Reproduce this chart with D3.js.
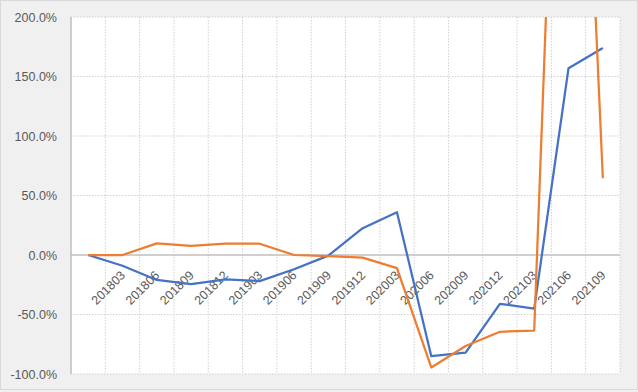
<!DOCTYPE html>
<html><head><meta charset="utf-8">
<script src="https://cdn.jsdelivr.net/npm/d3@7"></script>
<style>
html,body{margin:0;padding:0;background:#f0f0f0;}
svg{display:block;}
</style></head>
<body>
<script>
const categories = ["", "201803", "201806", "201809", "201812", "201903", "201906", "201909", "201912", "202003", "202006", "202009", "202012", "202103", "202106", "202109"];
const seriesBlue = [0, -9, -21, -24.5, -20.5, -22, -12, -0.5, 22.5, 36, -85, -82, -41, -45, 157, 174];
const seriesOrange = [0, 0, 9.8, 7.6, 9.5, 9.5, 0, -1, -2.2, -11, -94.5, -76.5, -64.5, -63.5, 710, 64.5];
const yTicks = [-100, -50, 0, 50, 100, 150, 200];

const W = 638, H = 392;
const svg = d3.select("body").append("svg").attr("width", W).attr("height", H);

svg.append("rect").attr("x", 0.5).attr("y", 0.5).attr("width", W - 1).attr("height", H - 3)
  .attr("fill", "#f0f0f0").attr("stroke", "#d9d9d9").attr("stroke-width", 1);

const x = d3.scaleBand().domain(categories.map((d, i) => i)).range([71, 620]).padding(0);
const y = d3.scaleLinear().domain([-100, 200]).range([374, 17]);

svg.append("rect").attr("x", 71).attr("y", 17).attr("width", 549).attr("height", 357).attr("fill", "#ffffff");

svg.append("defs").append("clipPath").attr("id", "clip")
  .append("rect").attr("x", 71).attr("y", 17).attr("width", 549).attr("height", 357);

// horizontal gridlines
svg.append("g").selectAll("line").data(yTicks.filter(d => d !== 0)).join("line")
  .attr("x1", 71).attr("x2", 620).attr("y1", d => y(d)).attr("y2", d => y(d))
  .attr("stroke", "#d0d0d0").attr("stroke-width", 1).attr("stroke-dasharray", "1.5,1.5");
// vertical gridlines
const vg = categories.map((d, i) => x(i) + x.bandwidth());
svg.append("g").selectAll("line").data(vg).join("line")
  .attr("x1", d => d).attr("x2", d => d).attr("y1", 17).attr("y2", 374)
  .attr("stroke", "#d0d0d0").attr("stroke-width", 1).attr("stroke-dasharray", "1.5,1.5");

// y axis line
svg.append("line").attr("x1", 71).attr("x2", 71).attr("y1", 17).attr("y2", 374)
  .attr("stroke", "#bfbfbf").attr("stroke-width", 1.5);
// zero line
svg.append("line").attr("x1", 71).attr("x2", 620).attr("y1", y(0)).attr("y2", y(0))
  .attr("stroke", "#bfbfbf").attr("stroke-width", 1.5);

// y labels
svg.append("g").selectAll("text").data(yTicks).join("text")
  .attr("x", 57).attr("y", d => y(d) + 4.5).attr("text-anchor", "end")
  .attr("font-family", "Liberation Sans, Arial, sans-serif").attr("font-size", 12.5)
  .attr("fill", "#595959").text(d => d.toFixed(1) + "%");

// x labels
svg.append("g").selectAll("text").data(categories).join("text")
  .attr("transform", (d, i) => `translate(${x(i) + x.bandwidth() / 2 + 3.5},${276}) rotate(-45)`)
  .attr("text-anchor", "end")
  .attr("font-family", "Liberation Sans, Arial, sans-serif").attr("font-size", 12.5)
  .attr("fill", "#595959").text(d => d);

const line = d3.line().x((d, i) => x(i) + x.bandwidth() / 2).y(d => y(d));
const g = svg.append("g").attr("clip-path", "url(#clip)");
g.append("path").datum(seriesBlue).attr("d", line).attr("fill", "none")
  .attr("stroke", "#4472c4").attr("stroke-width", 2.25).attr("stroke-linejoin", "round");
g.append("path").datum(seriesOrange).attr("d", line).attr("fill", "none")
  .attr("stroke", "#ed7d31").attr("stroke-width", 2.25).attr("stroke-linejoin", "round");
</script>
</body></html>
